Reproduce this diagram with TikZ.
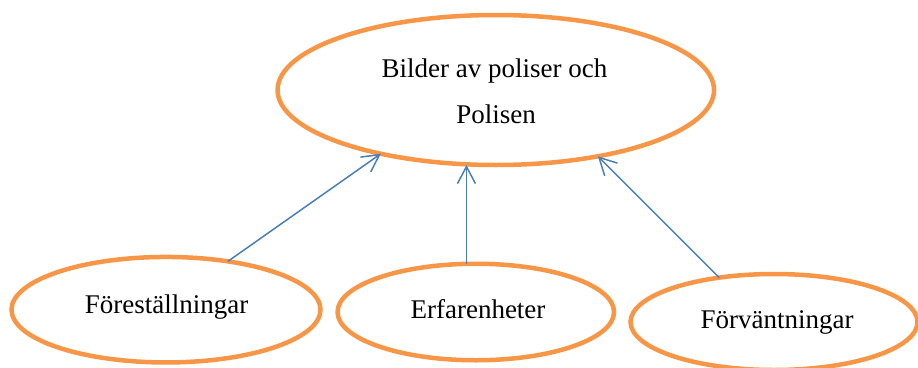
\documentclass[tikz,border=0pt]{standalone}
\usepackage{fontspec}
\setmainfont{Liberation Serif}
\usetikzlibrary{shapes.geometric,arrows.meta}
\definecolor{ellorange}{HTML}{F79646}
\definecolor{arrblue}{HTML}{4A7EBB}
\begin{document}
\begin{tikzpicture}[x=1pt,y=-1pt,
  oval/.style={ellipse,draw=ellorange,line width=4.5pt,inner sep=0pt,outer sep=0pt},
  lbl/.style={anchor=base,inner sep=0pt,font=\fontsize{27}{27}\selectfont},
  conn/.style={draw=arrblue,line width=1.5pt,-{Straight Barb[length=17pt,width=18pt,line width=1.5pt]}}]
\useasboundingbox (0,0) rectangle (918,367);
\node[oval,minimum width=436.5pt,minimum height=150pt] (top) at (495.8,90) {};
\node[oval,minimum width=309pt,minimum height=105.5pt] (fo) at (166,309.7) {};
\node[oval,minimum width=276.5pt,minimum height=96.5pt] (er) at (475.8,312) {};
\node[oval,minimum width=287pt,minimum height=96pt] (fv) at (774,322) {};
\node[lbl] (t1) at (494.5,77) {Bilder av poliser och};
\node[lbl] (t2) at (496,123) {Polisen};
\node[lbl] (l1) at (166.5,313) {Föreställningar};
\node[lbl] (l2) at (478,318) {Erfarenheter};
\node[lbl] (l3) at (777,328) {Förväntningar};
\draw[conn] (fo.38.3) -- (top.209.2);
\draw[conn] (er.101.5) -- (er.101.5 |- top.south);
\draw[conn] (fv.141.7) -- (top.327.3);
\end{tikzpicture}
\end{document}
